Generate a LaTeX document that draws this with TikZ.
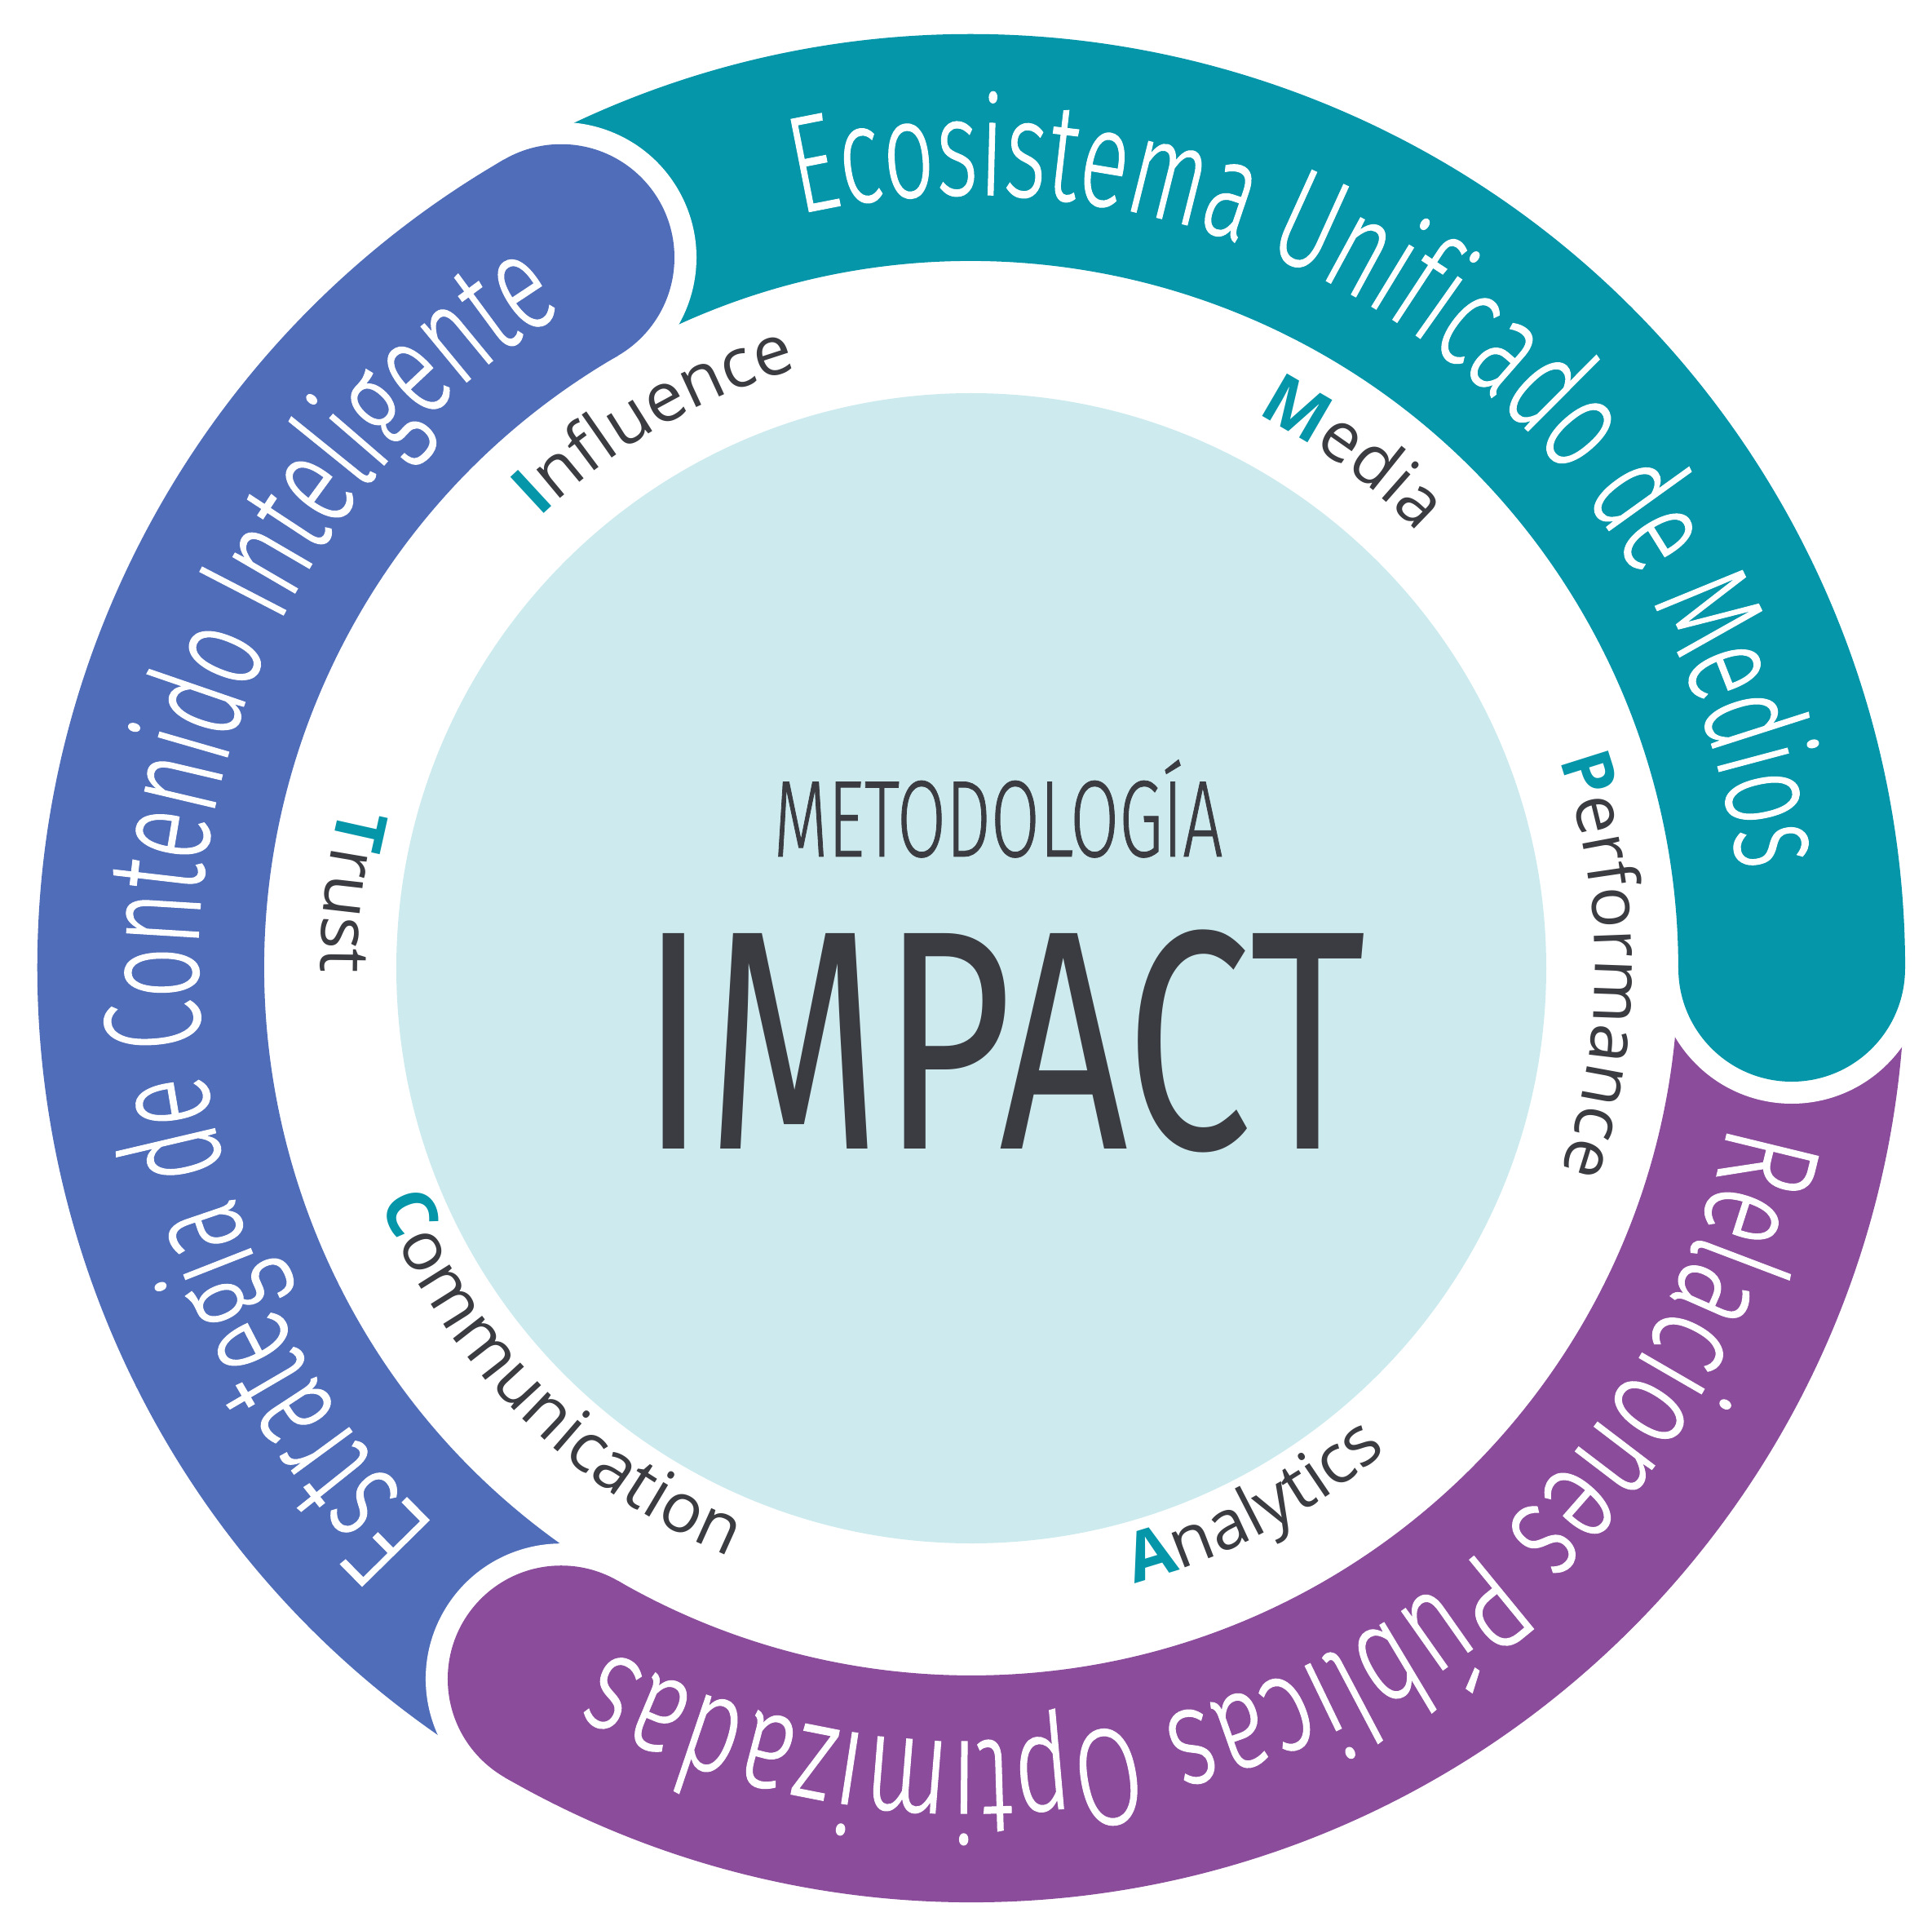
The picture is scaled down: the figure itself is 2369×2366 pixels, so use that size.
\documentclass[tikz,border=0pt]{standalone}
\usepackage{fontspec}
\setmainfont{Open Sans}
\newfontfamily\ringfont[FakeStretch=0.65, FakeBold=0.6]{Fira Sans Light}
\newfontfamily\widefont[FakeStretch=0.71, FakeBold=0.6]{Fira Sans Light}
\newfontfamily\impactfont[FakeStretch=0.72]{Fira Sans}
\usetikzlibrary{decorations.text}

\definecolor{mediateal}{HTML}{0596A9}
\definecolor{contentblue}{HTML}{506DB9}
\definecolor{prpurple}{HTML}{8B4C9B}
\definecolor{corecyan}{HTML}{CDEBEF}
\definecolor{inkgray}{HTML}{3B3C41}

\newcommand\bandsize{\fontsize{48}{48}\selectfont\color{white}}
\newcommand\lettersize{\fontsize{24}{24}\selectfont}

\begin{document}
\begin{tikzpicture}[x=0.01cm, y=0.01cm,
      band/.style = {line width=2.78cm},
      ring text/.style = {decorate, decoration={text along path,
                          text align=center, text={#1}}},
    ]
    \useasboundingbox[fill=white] (-1191,-1179) rectangle (1178,1187);

    %% Inner disc
    \fill[corecyan] (0,0) circle[radius=705];

    %% The three bands of the ring (from / head / colour)
    \foreach \from/\head/\col in {240/120/contentblue, 120/0/mediateal, 0/-120/prpurple}{%
      \draw[band, \col] (\from:1006) arc[start angle=\from, end angle=\head, radius=1006];
    }

    %% Rounded heads, each with a white rim over the next band
    \foreach \head/\col in {120/contentblue, 0/mediateal, -120/prpurple}{%
      \fill[white] (\head:1006) ++(\head:166)
        arc[start angle=\head, end angle=\head-180, radius=166] -- cycle;
      \fill[\col] (\head:1006) circle[radius=139];
    }

    %% Texts on the bands
    \path[ring text={|\ringfont\bandsize|Ecosistema Unificado de Medios}]
      (125:948) arc[start angle=125, end angle=-15, radius=948];
    \path[ring text={|\ringfont\bandsize|Estrategia de Contenido Inteligente}]
      (244:948) arc[start angle=244, end angle=104, radius=948];
    \path[ring text={|\widefont\bandsize|Relaciones Públicas Optimizadas}]
      (5.2:948) arc[start angle=5.2, end angle=-134.8, radius=948];

    %% The six letters of IMPACT round the disc
    \path[ring text={|\lettersize\bfseries\color{mediateal}|I|\lettersize\color{inkgray}|nfluence}]
      (160:765) arc[start angle=160, end angle=80, radius=765];
    \path[ring text={|\lettersize\bfseries\color{mediateal}|M|\lettersize\color{inkgray}|edia}]
      (93.5:765) arc[start angle=93.5, end angle=13.5, radius=765];
    \path[ring text={|\lettersize\bfseries\color{mediateal}|P|\lettersize\color{inkgray}|erformance}]
      (40.3:765) arc[start angle=40.3, end angle=-39.7, radius=765];
    \path[ring text={|\lettersize\bfseries\color{mediateal}|A|\lettersize\color{inkgray}|nalytics}]
      (-102.2:780) arc[start angle=-102.2, end angle=-22.2, radius=780];
    \path[ring text={|\lettersize\bfseries\color{mediateal}|C|\lettersize\color{inkgray}|ommunication}]
      (184.6:780) arc[start angle=184.6, end angle=264.6, radius=780];
    \path[ring text={|\lettersize\bfseries\color{mediateal}|T|\lettersize\color{inkgray}|rust}]
      (133:798) arc[start angle=133, end angle=213, radius=798];

    %% Title in the disc
    \node[inkgray, anchor=base, font=\ringfont\fontsize{38}{38}\selectfont]
      (method) at (33,137) {METODOLOGÍA};
    \node[inkgray, anchor=base, font=\impactfont\fontsize{109}{109}\selectfont]
      (impact) at (39,-221) {IMPACT};
  \end{tikzpicture}
\end{document}
